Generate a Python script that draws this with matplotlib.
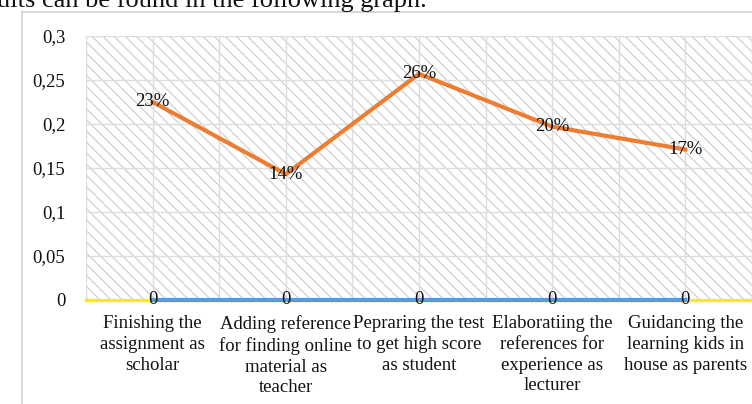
import matplotlib
matplotlib.use('Agg')
import matplotlib.pyplot as plt
from matplotlib.patches import Rectangle
from matplotlib.lines import Line2D

plt.rcParams['font.family'] = ['Liberation Serif', 'DejaVu Serif']
plt.rcParams['hatch.linewidth'] = 0.8

categories = ['Finishing the\nassignment as\nscholar',
              'Adding reference\nfor finding online\nmaterial as\nteacher',
              'Pepraring the test\nto get high score\nas student',
              'Elaboratiing the\nreferences for\nexperience as\nlecturer',
              'Guidancing the\nlearning kids in\nhouse as parents']
share = [0.225, 0.143, 0.257, 0.197, 0.171]
share_labels = ['23%', '14%', '26%', '20%', '17%']
zeros = [0, 0, 0, 0, 0]
yticks = [0, 0.05, 0.1, 0.15, 0.2, 0.25, 0.3]
ytick_labels = ['0', '0,05', '0,1', '0,15', '0,2', '0,25', '0,3']

fig = plt.figure(figsize=(7.52, 4.04), dpi=100)

# caption cut off at the top of the page
fig.text(-0.004, 1 - 7 / 404, 'ults can be found in the following graph.',
         fontsize=19, va='baseline', ha='left', color='#111111')

# chart frame
fig.add_artist(Line2D([22 / 752, 1], [1 - 12 / 404] * 2, color='#d0d0d0', lw=1.2,
                      transform=fig.transFigure))
fig.add_artist(Line2D([22 / 752] * 2, [0, 1 - 12 / 404], color='#d0d0d0', lw=1.2,
                      transform=fig.transFigure))

ax = fig.add_axes([86 / 752, 1 - 300 / 404, 1 - 86 / 752, 264 / 404])
ax.set_xlim(-0.5, 4.5)
ax.set_ylim(0, 0.3)
ax.add_patch(Rectangle((0, 0), 1, 1, transform=ax.transAxes, facecolor='white',
                       edgecolor='#cccccc', hatch='\\\\\\', lw=0, zorder=0))

for y in yticks:
    ax.axhline(y, color='#dddddd', lw=1, zorder=1)
for k in range(11):
    ax.axvline(-0.5 + 0.5 * k, color='#dddddd', lw=1, zorder=1)

x = list(range(len(categories)))
ax.axhline(0, color='#f5ea2a', lw=2.5, zorder=2, clip_on=False)
ax.plot(x, zeros, color='#5b9bd5', lw=3, zorder=3, clip_on=False)
ax.plot(x, share, color='#ed7d31', lw=3, zorder=3)

for xi, v, lab in zip(x, share, share_labels):
    ax.text(xi, v, lab, ha='center', va='center', fontsize=13.5, color='#111111', zorder=5)
for xi, v in zip(x, zeros):
    ax.text(xi, v, '0', ha='center', va='center', fontsize=13.5, color='#111111', zorder=5)

for s in ax.spines.values():
    s.set_visible(False)
ax.set_yticks(yticks)
ax.set_yticklabels(ytick_labels, fontsize=13.5)
ax.set_xticks(x)
ax.set_xticklabels(categories, fontsize=13.5, linespacing=1.28)
ax.tick_params(axis='both', length=0, colors='#111111')
ax.tick_params(axis='y', pad=15)
ax.tick_params(axis='x', pad=11)

fig.savefig('out.png', dpi=100)
